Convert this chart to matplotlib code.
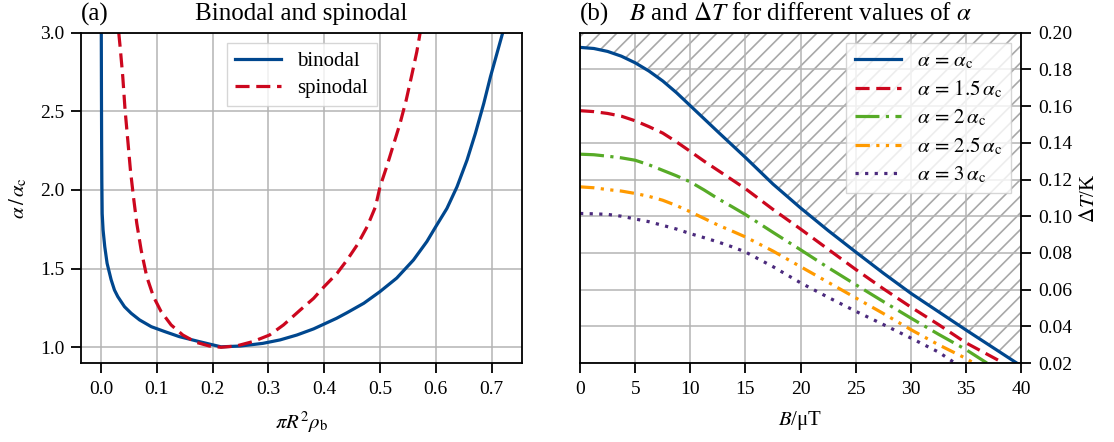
import numpy as np
import matplotlib
matplotlib.use("Agg")
import matplotlib.pyplot as plt
from matplotlib.ticker import FormatStrFormatter

plt.rcParams['font.family'] = ['Liberation Serif', 'DejaVu Serif']
plt.rcParams['mathtext.fontset'] = 'stix'
plt.rcParams['font.size'] = 15
plt.rcParams['hatch.color'] = '#a8a8a8'
plt.rcParams['hatch.linewidth'] = 1.2

# (a) binodal / spinodal, density pi R^2 rho_b vs alpha/alpha_c
binodal_rho = [0.0004, 0.0007, 0.0010, 0.0014, 0.0020, 0.0036, 0.0066, 0.0108,
               0.018, 0.024, 0.030, 0.042, 0.054, 0.069, 0.090, 0.114, 0.140,
               0.176, 0.215, 0.250, 0.290, 0.321, 0.351, 0.381, 0.400, 0.422,
               0.441, 0.471, 0.500, 0.530, 0.560, 0.584, 0.600, 0.620, 0.638,
               0.656, 0.671, 0.686, 0.698, 0.720]
binodal_alpha = [3.00, 2.60, 2.30, 2.05, 1.85, 1.746, 1.64, 1.534,
                 1.43, 1.364, 1.322, 1.258, 1.216, 1.174, 1.131, 1.100, 1.068,
                 1.036, 1.003, 1.008, 1.025, 1.047, 1.078, 1.117, 1.148, 1.184,
                 1.220, 1.280, 1.354, 1.440, 1.555, 1.672, 1.767, 1.883, 2.020,
                 2.190, 2.360, 2.550, 2.720, 3.000]

spinodal_rho = [0.0317, 0.0347, 0.0389, 0.0430, 0.0478, 0.0526, 0.0580, 0.0640,
                0.0718, 0.0819, 0.0939, 0.1076, 0.1256, 0.1465, 0.170, 0.194,
                0.215, 0.242, 0.272, 0.302, 0.327, 0.357, 0.381, 0.400, 0.423,
                0.441, 0.459, 0.477, 0.492, 0.500, 0.512, 0.524, 0.536, 0.547,
                0.557, 0.566, 0.572]
spinodal_alpha = [3.000, 2.890, 2.720, 2.510, 2.320, 2.127, 1.958, 1.788,
                  1.619, 1.449, 1.322, 1.227, 1.142, 1.078, 1.032, 1.008,
                  1.000, 1.008, 1.036, 1.078, 1.142, 1.237, 1.311, 1.386, 1.470,
                  1.555, 1.650, 1.767, 1.894, 2.020, 2.148, 2.286, 2.424, 2.572,
                  2.731, 2.879, 3.000]

# (b) Delta T over B for several alpha
B = [0, 1.25, 2.5, 3.75, 5, 6.25, 7.5, 8.75, 10, 11.25, 12.5, 13.75, 15,
     17.5, 20, 22.5, 25, 27.5, 30, 32.5, 35]
dT_1 = [0.192, 0.1914, 0.1898, 0.1872, 0.1836, 0.1791, 0.1737, 0.1673, 0.1602,
        0.1531, 0.146, 0.139, 0.132, 0.1175, 0.1045, 0.0922, 0.0805, 0.069,
        0.058, 0.048, 0.038]
dT_15 = [0.1575, 0.157, 0.156, 0.1545, 0.152, 0.1488, 0.1453, 0.1405, 0.1353,
         0.130, 0.125, 0.120, 0.115, 0.1037, 0.093, 0.082, 0.071, 0.0605,
         0.0505, 0.041, 0.031]
dT_2 = [0.1338, 0.1335, 0.1327, 0.1318, 0.1305, 0.128, 0.125, 0.122, 0.1187,
        0.1143, 0.1096, 0.1053, 0.1009, 0.0912, 0.0817, 0.072, 0.0627, 0.0535,
        0.0445, 0.0357, 0.0273]
dT_25 = [0.116, 0.1155, 0.1145, 0.1137, 0.1124, 0.1108, 0.1087, 0.1058, 0.1024,
         0.0988, 0.0952, 0.092, 0.0887, 0.081, 0.0725, 0.064, 0.0555, 0.047,
         0.0382, 0.030, 0.0225]
dT_3 = [0.1015, 0.1013, 0.101, 0.100, 0.0985, 0.097, 0.095, 0.093, 0.0905,
        0.0883, 0.086, 0.0834, 0.0805, 0.0725, 0.0637, 0.0558, 0.0482, 0.041,
        0.0336, 0.026]
# where each curve reaches the lower edge (Delta T = 0.02)
B_end = [39.6, 38.4, 36.9, 35.7, 34.0]

alpha_labels = [r'$\alpha\,=\,\alpha_\mathrm{c}$', r'$\alpha\,=\,1.5\,\alpha_\mathrm{c}$',
                r'$\alpha\,=\,2\,\alpha_\mathrm{c}$', r'$\alpha\,=\,2.5\,\alpha_\mathrm{c}$',
                r'$\alpha\,=\,3\,\alpha_\mathrm{c}$']

blue = '#00478e'
red = '#cc071e'
green = '#57ab27'
orange = '#ff9a00'
purple = '#4b2a7d'
lw = 2.3

fig = plt.figure(figsize=(11.14, 4.42), dpi=100)
ax1 = fig.add_axes([0.0727, 0.1787, 0.3961, 0.7473])
ax2 = fig.add_axes([0.5207, 0.1787, 0.3959, 0.7473])

for ax in (ax1, ax2):
    ax.grid(True, color='#b4b4b4', linewidth=1.1)
    for s in ax.spines.values():
        s.set_linewidth(1.3)
    ax.tick_params(direction='out', length=7, width=1.3, labelsize=14)
    ax.tick_params(axis='x', pad=6)
    ax.tick_params(axis='y', pad=5)

# left panel
ax1.plot(binodal_rho, binodal_alpha, color=blue, lw=lw, label='binodal')
ax1.plot(spinodal_rho, spinodal_alpha, color=red, lw=lw, dashes=(4.4, 2.1), label='spinodal')
ax1.set_xlim(-0.036, 0.755)
ax1.set_ylim(0.9, 3.0)
ax1.set_xticks(np.arange(0, 0.71, 0.1))
ax1.set_yticks(np.arange(1.0, 3.01, 0.5))
ax1.set_xlabel(r'$\pi R^2 \rho_\mathrm{b}$', labelpad=8)
ax1.set_ylabel(r'$\alpha\,/\,\alpha_\mathrm{c}$', labelpad=8)
ax1.set_title('(a)', loc='left', pad=9)
ax1.set_title('Binodal and spinodal', pad=9)
ax1.legend(loc='upper center', fancybox=False, edgecolor='#cccccc', handlelength=2.2,
           labelspacing=0.35, framealpha=0.8)

# right panel
curves = [
    (dT_1, blue, None),
    (dT_15, red, (4.4, 2.1)),
    (dT_2, green, (7.5, 2.0, 1.0, 2.0)),
    (dT_25, orange, (4.5, 2.0, 1.0, 2.0, 1.0, 2.0)),
    (dT_3, purple, (1.0, 2.0)),
]
ymin = 0.02
for (dT, col, dash), b_end, lab in zip(curves, B_end, alpha_labels):
    xs = B[:len(dT)] + [b_end]
    ys = dT + [ymin]
    kw = dict(color=col, lw=lw, label=lab)
    if dash is not None:
        kw['dashes'] = dash
    ax2.plot(xs, ys, **kw)

# forbidden region above the alpha = alpha_c curve
hx = B + [B_end[0], 40]
hy = dT_1 + [ymin, ymin]
ax2.fill_between(hx, hy, 0.2, facecolor='none', edgecolor='#a8a8a8', hatch='//', linewidth=0)

ax2.set_xlim(0, 40)
ax2.set_ylim(0.02, 0.20)
ax2.set_xticks(np.arange(0, 41, 5))
ax2.set_yticks(np.arange(0.02, 0.201, 0.02))
ax2.yaxis.set_major_formatter(FormatStrFormatter('%.2f'))
ax2.yaxis.tick_right()
ax2.yaxis.set_label_position('right')
ax2.set_xlabel(r'$B$/μT', labelpad=8)
ax2.set_ylabel(r'$\Delta T$/K', labelpad=6)
ax2.set_title('(b)', loc='left', pad=9)
ax2.set_title(r'$B$ and $\Delta T$ for different values of $\alpha$', pad=9)
ax2.legend(loc='upper right', fancybox=False, edgecolor='#cccccc', handlelength=2.2,
           labelspacing=0.35, framealpha=0.8)

fig.savefig('out.png', dpi=100)
